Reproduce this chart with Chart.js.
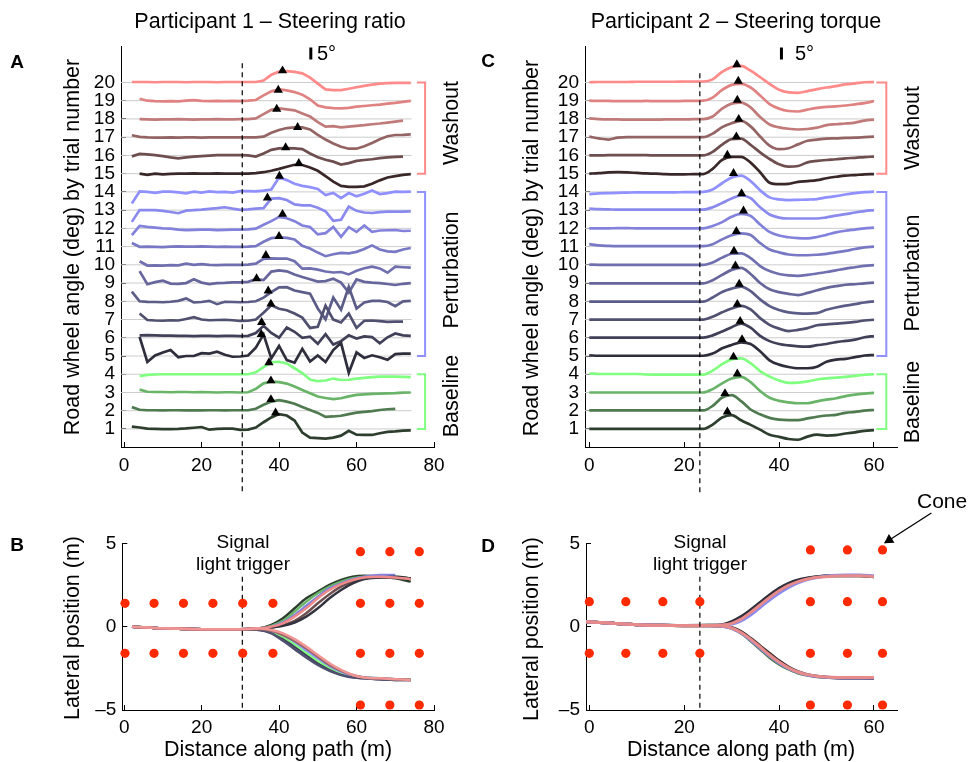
<!DOCTYPE html>
<html>
<head>
<meta charset="utf-8">
<script src="https://cdn.jsdelivr.net/npm/chart.js@4.4.1/dist/chart.umd.min.js"></script>
<style>
  body { margin: 0; background: #fff; }
  #fig { position: relative; width: 968px; height: 762px; overflow: hidden;
         font-family: "Liberation Sans", Arial, Helvetica, sans-serif; color: #000; }
  canvas { position: absolute; }
  .t { position: absolute; white-space: nowrap; transform: translate(-50%, -50%); line-height: 1; }
  .v { transform: translate(-50%, -50%) rotate(-90deg); }
  .lt { position: absolute; white-space: nowrap; transform: translate(0, -50%); line-height: 1; }
  .b { font-weight: bold; font-size: 19px; }
</style>
</head>
<body>
<div id="fig">
  <canvas id="chartA" width="484" height="500" style="left:0;top:0"></canvas>
  <canvas id="chartC" width="484" height="500" style="left:484px;top:0"></canvas>
  <canvas id="chartB" width="484" height="272" style="left:0;top:490px"></canvas>
  <canvas id="chartD" width="484" height="272" style="left:484px;top:490px"></canvas>

  <div class="t" style="left:270px;top:22px;font-size:21.5px">Participant 1 – Steering ratio</div>
  <div class="t" style="left:736px;top:22px;font-size:21.5px">Participant 2 – Steering torque</div>

  <div class="t b" style="left:17px;top:61px">A</div>
  <div class="t b" style="left:488px;top:60px">C</div>
  <div class="t b" style="left:17px;top:544px">B</div>
  <div class="t b" style="left:488px;top:545px">D</div>

  <div class="t v" style="left:73px;top:247px;font-size:21.5px">Road wheel angle (deg) by trial number</div>
  <div class="t v" style="left:532px;top:248px;font-size:21.5px">Road wheel angle (deg) by trial number</div>
  <div class="t v" style="left:73px;top:628px;font-size:21.5px">Lateral position (m)</div>
  <div class="t v" style="left:532px;top:629px;font-size:21.5px">Lateral position (m)</div>
  <div class="t" style="left:278px;top:750px;font-size:21.5px">Distance along path (m)</div>
  <div class="t" style="left:741px;top:750px;font-size:21.5px">Distance along path (m)</div>

  <div class="t v" style="left:452px;top:123px;font-size:21.5px">Washout</div>
  <div class="t v" style="left:452px;top:270px;font-size:21.5px">Perturbation</div>
  <div class="t v" style="left:452px;top:396px;font-size:21.5px">Baseline</div>
  <div class="t v" style="left:913px;top:128px;font-size:21.5px">Washout</div>
  <div class="t v" style="left:913px;top:273px;font-size:21.5px">Perturbation</div>
  <div class="t v" style="left:913px;top:402px;font-size:21.5px">Baseline</div>

  <div class="lt" style="left:317px;top:53px;font-size:20px">5°</div>
  <div class="lt" style="left:795px;top:53px;font-size:20px">5°</div>

  <div class="t" style="left:243px;top:541px;font-size:19px">Signal</div>
  <div class="t" style="left:243px;top:563px;font-size:19px">light trigger</div>
  <div class="t" style="left:700px;top:541px;font-size:19px">Signal</div>
  <div class="t" style="left:700px;top:563px;font-size:19px">light trigger</div>
  <div class="lt" style="left:917px;top:500px;font-size:21px">Cone</div>
</div>

<script>
Chart.defaults.font.family = '"Liberation Sans", Arial, Helvetica, sans-serif';
Chart.defaults.color = '#000';

// degrees of road wheel angle per trial row (5 deg scale bar = 0.66 rows)
const DEG_PER_ROW = 7.6;

const trialNumbers = [1, 2, 3, 4, 5, 6, 7, 8, 9, 10, 11, 12, 13, 14, 15, 16, 17, 18, 19, 20];
const trialColors = [
    '#2e3e2e', '#507a50', '#6ab46a', '#80ff80',                 // baseline 1-4
    '#2e2e3c', '#404058', '#505070', '#5c5c88', '#66669c',      // perturbation 5-9
    '#7070b0', '#7878c4', '#8282dc', '#8a8aee', '#9090ff',      // perturbation 10-14
    '#3a2828', '#6e4e4e', '#946464', '#c07a7a', '#e08282', '#ff8a8a' // washout 15-20
];
const groupColors = ['#ff8a8a', '#9090ff', '#80ff80'];
const groupTop = [20, 14, 4];
const groupBottom = [15, 5, 1];

// ---- Participant 1: road wheel angle (deg) sampled every 2 m ----
const p1Dist = [2, 4, 6, 8, 10, 12, 14, 16, 18, 20, 22, 24, 26, 28, 30, 32, 34, 36, 38,
    40, 42, 44, 46, 48, 50, 52, 54, 56, 58, 60, 62, 64, 66, 68, 70, 72, 74];
const p1Trial01 = [1.0, 0.6, 0.1, 0, -0.1, -0.1, 0, 0.2, 0.5, 0.8, -0.3, 0, 0.1, 0.1, -0.4, -0.3,
    0.6, 2.8, 4.8, 6.2, 5.6, 3.5, -1.5, -3.6, -3.8, -4.0, -3.6, -2.8, -0.8, -2.4, -2.5, -2.5, -1.8, -1.2, -1.0, -0.7, -0.6];
const p1Trial02 = [1.5, 0.4, 0.2, 0.2, 0.1, 0.2, 0.2, 0.1, 0.2, 0.1, 0.2, 0.2, 0.1, 0.2, 0.2, 0.2,
    0.8, 2.5, 3.8, 4.4, 3.8, 2.9, 1.5, 0.3, -0.9, -2.6, -2.4, -2.1, -1.4, -0.8, -0.5, -0.2, 0.3, 0.6, 0.8, null, null];
const p1Trial03 = [null, 1.2, 0.3, 0.2, 0.2, 0.1, 0.2, 0.2, 0.1, 0.2, 0.1, 0, 0.1, 0.1, 0, 0.1,
    1.5, 3.8, 4.5, 4.3, 3.7, 2.5, 1.0, -0.3, -1.7, -2.3, -2.8, -2.4, -1.6, -1.0, -0.8, -0.6, -0.5, -0.4, -0.3, -0.1, 0];
const p1Trial04 = [null, -0.8, -0.3, -0.1, 0, 0, 0, 0, 0, 0, 0, 0, 0, 0, 0, 0,
    0.8, 3.0, 5.0, 5.2, 4.5, 2.5, 0.5, -2.2, -2.9, -2.6, -1.8, -2.4, -2.3, -1.8, -1.5, -1.2, -1.0, -1.0, -1.0, -1.1, -1.2];
const p1Trial05 = [null, 8.0, -2.5, 0.2, 1.5, 2.5, -0.5, 0, 0, 1.2, 1.0, 1.8, 0.5, -0.3, -0.2, 0.2,
    3.5, 9.0, -1.0, 4.2, -1.7, -2.8, 3.0, -2.3, 0.2, -2.5, 2.5, 5.5, -7.0, 1.5, -0.8, 0.3, -0.5, -1.6, 0.8, 1.0, 1.0];
const p1Trial06 = [null, 1.0, 1.1, 1.0, 0.9, 0.9, 0.8, 0.8, 0.7, 0.8, 0.8, 0.7, 0.8, 0.8, 0.7, 0.8,
    2.0, 5.0, 2.0, 0, 4.3, 2.5, 0, 0.5, -2.5, 1.5, -2.8, -1.4, 1.0, -0.3, 0.6, 0.3, -2.3, 0.2, 1.8, 1.0, 0.8];
const p1Trial07 = [null, 2.5, -0.2, -0.4, -0.5, -0.3, -0.4, 0.2, 1.0, 0, -0.3, -0.2, -0.1, -0.3, -0.6, -0.5,
    0, 2.8, 5.9, 4.5, 3.9, 2.5, 0.8, -3.5, -3.0, 5.8, 0, -1.2, 2.5, -3.5, -0.5, -0.4, -0.7, -1.0, -0.9, -0.9, null];
const p1Trial08 = [4.0, 0, -0.2, -0.3, -0.4, -0.2, 0.2, 1.2, -0.5, -0.3, 0.2, -1.2, -0.2, -0.3, -0.4, -0.3,
    0, 1.5, 3.8, 5.8, 5.9, 4.5, 3.8, 3.2, -3.0, -7.5, 1.6, -3.5, 6.0, -3.0, -0.5, 0.2, 0.2, -0.3, -2.0, 0, 0.2];
const p1Trial09 = [null, 5.0, -0.5, 0.4, 1.0, -0.2, -0.3, 0, 1.6, 0.2, -0.4, 0, 0.1, 0.3, 0.3, 0.5,
    1.6, 1.2, 4.8, 5.3, 4.9, 3.6, 2.5, 1.6, 0.6, 0.8, 1.8, 0.2, -4.0, 1.5, 0.5, 0.2, 0, -0.4, -0.8, -0.3, 0];
const p1Trial10 = [null, 1.5, -0.3, -0.2, -0.3, -0.1, -0.2, 0.5, 0, 0.3, 0, -0.1, 0, 0, 0, 0.1,
    0.5, 2.5, 2.7, 2.6, 2.6, 1.5, -1.6, -1.5, -2.0, -2.8, -3.2, -3.0, -4.0, -2.5, -1.4, -0.8, -1.5, -3.3, -0.8, -1.0, -1.2];
const p1Trial11 = [1.5, -0.1, 0, -0.1, -0.2, 0, 0.1, 0, 0, 0.1, 0, -0.1, 0, -0.1, -0.1, 0,
    0.2, 2.0, 3.5, 3.8, 3.6, 3.0, 0.3, -0.8, -2.5, -4.0, -3.2, -2.6, -2.8, -2.2, -1.0, 0.5, -1.2, -2.0, -2.2, -1.2, -0.6];
const p1Trial12 = [-2.8, 1.0, 0.6, 0.3, 0, -0.1, -0.5, -0.7, -0.6, -0.5, -0.5, -0.7, -0.6, -0.5, -0.5, -0.4,
    -0.1, 1.5, 3.0, 4.8, 4.2, 3.0, 1.2, 0.6, -2.5, -2.0, 0.6, -3.5, 0.5, -1.5, 1.2, -1.4, -0.9, -0.8, -0.7, -1.1, -1.0];
const p1Trial13 = [-4.9, 0, 0, 0, -0.3, -0.8, -1.3, -0.2, 0, 0.2, 0.5, 0.8, 1.2, 0.6, 0.1, 0.3,
    0.6, 0.8, 4.8, 5.0, 4.2, 2.4, 2.0, 2.0, 1.0, -0.5, -4.5, -4.0, 1.5, -0.3, -1.0, -1.2, -0.8, -0.6, -0.6, -0.6, -0.5];
const p1Trial14 = [-4.8, 0.2, 0, -0.4, 0.1, 0.1, -0.2, -0.6, 0.1, -0.3, 0.2, -0.1, 0, -0.3, 0.3, 0.3,
    0.2, 0.5, 1.0, 6.0, 4.9, 3.4, 2.5, 2.0, 1.2, -1.3, -0.4, -2.6, -0.5, -1.8, -0.8, 0.6, -0.9, -0.5, 0.1, 0, 0.1];
const p1Trial15 = [null, 0, -0.5, 0, -0.3, -0.1, 0, 0, 0.1, 0, 0, 0.1, 0, 0, 0, 0,
    0.2, 0.6, 1.2, 2.0, 2.9, 3.7, 3.6, 2.6, 1.2, -1.0, -3.3, -5.1, -5.5, -5.5, -5.3, -4.2, -2.8, -1.6, -1.0, -0.5, -0.2];
const p1Trial16 = [-0.4, 0.6, 0.4, 0.1, -0.3, -0.8, -1.2, -0.8, -0.5, -0.3, -0.1, 0.1, 0.1, 0.1, 0.1, 0,
    -0.5, 0.8, 2.3, 2.9, 3.0, 2.9, 2.6, 0.8, -0.8, -1.8, -2.6, -3.8, -3.2, -2.3, -1.9, -1.6, -1.1, -0.8, -0.6, -0.5, null];
const p1Trial17 = [0.8, 0.1, -0.1, -0.2, -0.2, -0.1, -0.2, -0.1, -0.1, -0.2, -0.1, -0.1, -0.1, -0.1, -0.1, -0.1,
    -0.1, 0.2, 1.8, 3.0, 3.8, 4.1, 4.1, 3.2, 1.0, -1.0, -2.6, -4.0, -4.8, -4.8, -3.8, -2.4, -0.9, 0.4, 0.9, 1.0, 1.2];
const p1Trial18 = [null, -0.1, -0.2, -0.3, -0.2, -0.2, -0.1, -0.2, -0.3, -0.2, -0.2, -0.1, -0.2, -0.2, -0.1, -0.1,
    0.2, 2.0, 3.8, 4.4, 4.0, 3.6, 2.3, 1.0, -1.3, -3.2, -3.0, -3.5, -3.2, -2.9, -2.6, -2.2, -1.9, -1.5, -1.1, -0.7, null];
const p1Trial19 = [null, 0.8, 0, -0.2, -0.3, -0.2, -0.3, 0, 0.2, -0.1, -0.2, -0.1, -0.2, -0.1, -0.2, 0,
    0.3, 2.2, 3.9, 4.7, 4.3, 3.6, 2.5, 0.6, -2.0, -2.8, -3.1, -3.2, -3.0, -2.5, -2.2, -1.9, -1.6, -1.2, -0.9, -0.5, -0.1];
const p1Trial20 = [0.2, 0.2, 0.2, 0.1, 0.2, 0.2, 0.2, 0.1, 0.2, 0.2, 0.2, 0.1, 0.2, 0.2, 0.2, 0.2,
    0.2, 0.8, 3.2, 4.5, 4.7, 4.4, 3.8, 2.0, -0.5, -2.9, -3.2, -3.2, -2.6, -2.0, -1.4, -0.9, -0.5, -0.3, -0.2, -0.2, -0.2];
const p1Traces = [p1Trial01, p1Trial02, p1Trial03, p1Trial04, p1Trial05, p1Trial06, p1Trial07, p1Trial08, p1Trial09, p1Trial10,
    p1Trial11, p1Trial12, p1Trial13, p1Trial14, p1Trial15, p1Trial16, p1Trial17, p1Trial18, p1Trial19, p1Trial20];
const p1PeakDist = [39.1, 37.9, 37.9, 37.4, 35.4, 35.5, 37.9, 37.2, 34.2, 36.6, 40.0, 40.9, 37.0, 40.1, 45.1, 41.7, 44.8, 39.4, 39.8, 40.9];
const p1PeakDeg = [6.7, 4.7, 4.9, 4.9, 9.0, 6.4, 6.5, 4.4, 1.9, 4.0, 4.3, 5.9, 5.1, 6.6, 4.3, 3.3, 4.1, 4.1, 4.4, 4.9];

// ---- Participant 2: road wheel angle (deg) sampled every 2 m ----
const p2Dist = [0, 2, 4, 6, 8, 10, 12, 14, 16, 18, 20, 22, 24, 26, 28, 30, 32, 34, 36, 38,
    40, 42, 44, 46, 48, 50, 52, 54, 56, 58, 60];
const p2Trial01 = [0, 0, 0, 0, 0, 0, 0, 0, 0, 0, 0, 0, 0,
    1.8, 4.8, 5.8, 3.6, 1.7, -0.3, -2.4, -3.3, -4.2, -4.5, -3.2, -2.4, -2.8, -2.6, -1.9, -1.4, -0.8, -0.5];
const p2Trial02 = [0.1, 0.1, 0.1, 0.1, 0.1, 0.1, 0.1, 0.1, 0.1, 0.1, 0.1, 0.1, 0.1,
    2.0, 5.5, 6.5, 4.0, 0.5, -1.5, -3.0, -3.7, -3.9, -3.9, -3.2, -2.5, -2.0, -1.7, -0.9, -0.5, 0, 0.3];
const p2Trial03 = [0, 0, 0, 0, 0, 0, 0, 0, 0, 0, 0, 0, 0,
    1.4, 3.8, 5.8, 6.5, 4.3, 0.6, -2.2, -3.5, -4.1, -4.5, -4.5, -3.7, -3.0, -2.4, -1.5, -0.9, -0.5, -0.2];
const p2Trial04 = [0.3, 0.1, 0.1, 0.1, 0.1, 0.1, -0.1, -0.2, -0.2, -0.2, -0.2, -0.2, -0.2,
    1.5, 4.2, 6.2, 6.6, 4.6, 1.3, -1.0, -2.6, -3.6, -3.5, -3.0, -2.2, -1.7, -1.4, -1.1, -0.7, -0.2, 0];
const p2Trial05 = [0.3, 0.1, 0.1, 0.1, 0.1, 0.1, 0.1, 0.1, 0.1, 0.1, 0.1, 0.1, 0.1,
    1.0, 3.2, 4.6, 5.7, 5.0, 2.0, -1.8, -3.6, -4.6, -5.1, -5.1, -4.5, -2.4, -1.5, -1.2, -0.5, 0.2, 0.4];
const p2Trial06 = [0.1, 0.1, 0.1, 0.1, 0.1, 0.1, 0.1, 0.1, 0.1, 0.1, 0.1, 0.1, 0.1,
    1.0, 2.6, 4.4, 5.9, 4.2, 0.8, -1.4, -2.6, -3.2, -3.6, -3.7, -3.1, -2.6, -1.8, -1.3, -0.8, 0.2, 0.7];
const p2Trial07 = [0, 0, 0, 0, 0, 0, 0, 0, 0, 0, 0, 0, 0,
    1.2, 3.0, 4.6, 5.7, 4.2, 0.6, -2.2, -3.8, -4.8, -4.3, -3.6, -2.4, -2.0, -1.7, -1.4, -1.0, -0.4, -0.1];
const p2Trial08 = [-0.1, -0.1, -0.1, -0.1, -0.1, -0.1, -0.1, -0.1, -0.1, -0.1, -0.1, -0.1, -0.1,
    1.6, 3.9, 5.3, 6.1, 4.2, 0.8, -2.0, -3.6, -4.6, -5.0, -5.1, -4.9, -3.5, -2.6, -1.8, -1.2, -0.5, 0];
const p2Trial09 = [-0.1, -0.1, -0.1, -0.1, -0.1, -0.1, -0.1, -0.1, -0.1, -0.1, -0.1, -0.1, -0.1,
    1.2, 3.4, 5.5, 6.3, 3.8, 0, -2.6, -3.8, -4.5, -5.0, -4.1, -3.0, -2.0, -1.3, -0.7, -0.5, -0.1, 0.2];
const p2Trial10 = [0.1, 0, 0, 0, 0, 0, 0, 0, 0, 0, 0, 0, 0,
    1.0, 3.0, 4.6, 4.8, 2.8, -0.5, -2.6, -3.8, -4.4, -4.6, -4.2, -3.6, -3.0, -2.3, -1.6, -1.0, -0.4, -0.1];
const p2Trial11 = [1.0, 0.5, 0.3, 0.2, 0.2, 0.2, 0.2, 0.2, 0.2, 0.2, 0.2, 0.2, 0.2,
    1.0, 3.0, 4.7, 5.5, 4.8, 1.5, -1.2, -2.4, -3.3, -3.6, -3.6, -3.4, -3.0, -2.4, -1.8, -1.0, -0.3, 0];
const p2Trial12 = [0, 0, 0, 0.1, 0.1, 0, 0, 0, 0, 0, 0, 0, 0,
    1.0, 2.6, 4.8, 6.0, 5.2, 1.6, -1.5, -3.0, -3.7, -4.1, -4.2, -3.6, -2.7, -1.7, -1.0, -0.5, 0, 0.3];
const p2Trial13 = [0.6, 0.4, 0.3, 0.2, 0.2, 0.2, 0.2, 0.2, 0.2, 0.2, 0.2, 0.2, 0.2,
    1.2, 3.0, 4.8, 6.1, 5.0, 1.2, -1.8, -3.1, -3.5, -3.5, -3.5, -3.5, -3.0, -2.3, -1.7, -1.0, -0.4, 0];
const p2Trial14 = [-0.9, -0.6, -0.5, -0.4, -0.3, -0.2, -0.2, -0.2, -0.2, -0.2, -0.1, -0.1, 0,
    1.0, 3.6, 6.0, 6.8, 4.5, 0.7, -2.3, -3.1, -3.4, -3.3, -3.2, -3.0, -2.3, -1.8, -1.1, -0.5, -0.1, 0.1];
const p2Trial15 = [0, 0.2, 0.5, 0.6, 0.5, 0.3, 0.1, 0, -0.2, -0.3, -0.3, -0.2, -0.2,
    2.0, 5.7, 7.0, 7.0, 4.6, 0.6, -3.8, -4.4, -4.3, -3.4, -3.1, -2.7, -1.9, -1.3, -0.8, -0.6, -0.3, -0.2];
const p2Trial16 = [0, 0, 0.1, 0.1, 0.1, 0.1, 0.1, 0, 0, 0, 0, 0, 0,
    1.5, 4.5, 6.8, 7.0, 4.4, 1.3, -1.5, -3.7, -4.7, -4.4, -2.9, -2.3, -1.9, -1.6, -1.2, -1.0, -0.7, -0.5];
const p2Trial17 = [0.2, -0.5, -1.0, -0.2, 0, 0, 0, 0, 0, 0, 0, 0, 0,
    1.5, 4.2, 5.8, 6.8, 4.5, 0.3, -3.5, -5.0, -4.6, -3.0, -1.5, -1.0, -0.6, -0.5, -0.3, -0.2, 0, 0.2];
const p2Trial18 = [0.2, -0.1, -0.2, -0.2, -0.3, -0.3, -0.3, -0.3, -0.2, -0.2, -0.2, -0.1, -0.1,
    1.0, 4.3, 6.4, 6.8, 4.8, 0.8, -2.3, -3.5, -4.1, -4.4, -4.2, -3.6, -2.6, -2.2, -1.9, -1.5, -0.7, -0.3];
const p2Trial19 = [0, -0.1, -0.1, -0.2, -0.2, -0.2, -0.1, -0.2, -0.2, -0.2, -0.1, -0.1, 0,
    1.3, 4.5, 6.6, 7.0, 5.5, 2.2, -1.4, -3.3, -4.3, -4.5, -3.7, -3.0, -2.6, -2.4, -2.0, -1.5, -1.0, -0.2];
const p2Trial20 = [0.1, 0.2, 0.2, 0.2, 0.2, 0.3, 0.3, 0.3, 0.3, 0.3, 0.4, 0.4, 0.4,
    1.3, 4.4, 6.4, 6.9, 4.9, 2.2, -0.6, -3.0, -4.1, -4.3, -3.6, -2.8, -2.1, -1.5, -0.8, -0.4, 0.1, 0.2];
const p2Traces = [p2Trial01, p2Trial02, p2Trial03, p2Trial04, p2Trial05, p2Trial06, p2Trial07, p2Trial08, p2Trial09, p2Trial10,
    p2Trial11, p2Trial12, p2Trial13, p2Trial14, p2Trial15, p2Trial16, p2Trial17, p2Trial18, p2Trial19, p2Trial20];
const p2PeakDist = [29.1, 28.6, 31.2, 30.4, 32.2, 31.8, 31.2, 31.6, 30.8, 30.5, 31.0, 32.5, 32.1, 30.4, 29.1, 31.0, 31.5, 31.2, 31.4, 31.1];
const p2PeakDeg = [7.1, 7.2, 7.8, 7.2, 6.9, 6.9, 6.4, 7.2, 7.2, 5.7, 6.4, 7.3, 6.9, 7.7, 7.7, 7.8, 7.5, 7.9, 8.2, 7.5];

// ---- Lateral position paths (m) ----
const p1PathDist = [2, 10, 20, 30, 35, 38, 41, 44, 47, 50, 53, 56, 59, 62, 66, 70, 74];
const p1PathLeftA = [0, -0.1, -0.15, -0.15, -0.1, 0.1, 0.5, 1.1, 1.7, 2.1, 2.5, 2.8, 3.0, 3.05, 3.0, 2.9, 2.7];
const p1PathLeftB = [0, -0.1, -0.15, -0.15, -0.1, 0.05, 0.35, 0.9, 1.5, 2.0, 2.4, 2.7, 2.9, 3.0, 3.0, 3.0, 2.9];
const p1PathLeftC = [0, -0.1, -0.15, -0.15, -0.1, 0, 0.25, 0.7, 1.25, 1.8, 2.3, 2.6, 2.85, 3.0, 3.1, 3.1, null];
const p1PathLeftD = [0, -0.1, -0.15, -0.15, -0.1, -0.05, 0.1, 0.35, 0.8, 1.4, 1.95, 2.4, 2.7, 2.9, 2.95, 2.95, 2.9];
const p1PathLeftE = [0, -0.1, -0.15, -0.15, -0.1, -0.05, 0.05, 0.25, 0.6, 1.1, 1.7, 2.2, 2.6, 2.85, 2.95, 3.0, 2.9];
const p1PathLeftF = [0, -0.1, -0.15, -0.15, -0.1, 0, 0.2, 0.6, 1.1, 1.7, 2.2, 2.55, 2.8, 2.95, 3.0, 2.95, 2.85];
const p1PathRightA = [0, -0.1, -0.15, -0.15, -0.2, -0.35, -0.7, -1.2, -1.7, -2.2, -2.55, -2.85, -3.0, -3.1, -3.15, -3.2, -3.2];
const p1PathRightB = [0, -0.1, -0.15, -0.15, -0.15, -0.3, -0.6, -1.05, -1.55, -2.05, -2.45, -2.75, -2.95, -3.05, -3.1, -3.15, -3.15];
const p1PathRightC = [0, -0.1, -0.15, -0.15, -0.15, -0.25, -0.5, -0.9, -1.4, -1.9, -2.35, -2.7, -2.95, -3.05, -3.1, -3.15, -3.2];
const p1PathRightD = [0, -0.1, -0.15, -0.15, -0.2, -0.4, -0.85, -1.35, -1.85, -2.3, -2.65, -2.9, -3.05, -3.1, -3.15, -3.2, -3.2];
const p1PathRightE = [0, -0.1, -0.15, -0.15, -0.15, -0.25, -0.5, -0.85, -1.3, -1.8, -2.3, -2.65, -2.9, -3.05, -3.1, -3.15, -3.2];
const p1PathRightF = [0, -0.1, -0.15, -0.15, -0.1, -0.2, -0.4, -0.75, -1.2, -1.7, -2.2, -2.6, -2.9, -3.05, -3.1, -3.15, -3.2];
const p1Paths = [p1PathLeftA, p1PathRightA, p1PathLeftB, p1PathRightB, p1PathLeftC, p1PathRightC,
    p1PathLeftD, p1PathRightD, p1PathLeftE, p1PathRightE, p1PathLeftF, p1PathRightF];
const p1PathColors = ['#2e3e2e', '#404058', '#6ab46a', '#80ff80', '#8282dc', '#9090ff',
    '#6e4e4e', '#505070', '#333340', '#946464', '#f08a8a', '#f09494'];

const p2PathDist = [-0.8, 5, 10, 15, 20, 25, 28, 30, 32, 34, 36, 38, 40, 42, 44, 46, 48, 51, 54, 57, 60];
const p2PathLeftA = [0.3, 0.2, 0.12, 0.08, 0.07, 0.08, 0.1, 0.25, 0.55, 0.95, 1.4, 1.85, 2.25, 2.55, 2.75, 2.9, 3.0, 3.05, 3.05, 3.05, 3.0];
const p2PathLeftB = [0.3, 0.2, 0.12, 0.08, 0.07, 0.08, 0.12, 0.3, 0.6, 1.0, 1.45, 1.9, 2.3, 2.6, 2.8, 2.92, 3.0, 3.05, 3.05, 3.05, 3.0];
const p2PathLeftC = [0.3, 0.2, 0.12, 0.08, 0.07, 0.07, 0.08, 0.15, 0.35, 0.7, 1.15, 1.6, 2.0, 2.35, 2.62, 2.82, 2.95, 3.07, 3.1, 3.1, 3.05];
const p2PathLeftD = [0.3, 0.2, 0.12, 0.08, 0.06, 0.07, 0.1, 0.2, 0.45, 0.85, 1.3, 1.75, 2.15, 2.47, 2.7, 2.86, 2.96, 3.02, 3.05, 3.05, 3.0];
const p2PathRightA = [0.3, 0.2, 0.12, 0.08, 0.06, 0.05, 0.03, -0.1, -0.4, -0.85, -1.35, -1.85, -2.25, -2.55, -2.78, -2.92, -3.0, -3.06, -3.1, -3.1, -3.1];
const p2PathRightB = [0.3, 0.2, 0.12, 0.08, 0.06, 0.05, 0.04, -0.05, -0.3, -0.7, -1.15, -1.6, -2.05, -2.42, -2.7, -2.88, -2.98, -3.05, -3.08, -3.08, -3.1];
const p2PathRightC = [0.3, 0.2, 0.12, 0.08, 0.06, 0.05, 0.03, -0.1, -0.38, -0.8, -1.28, -1.75, -2.18, -2.5, -2.74, -2.9, -2.99, -3.05, -3.08, -3.08, -3.08];
const p2PathRightD = [0.3, 0.2, 0.12, 0.08, 0.06, 0.05, 0.04, -0.08, -0.35, -0.75, -1.22, -1.7, -2.12, -2.47, -2.72, -2.88, -2.97, -3.03, -3.05, -3.05, -3.05];
const p2Paths = [p2PathLeftA, p2PathRightA, p2PathLeftB, p2PathRightB, p2PathLeftC, p2PathRightC, p2PathLeftD, p2PathRightD];
const p2PathColors = ['#507a50', '#507a50', '#2e2e3c', '#3a2828', '#8a8aee', '#8a8aee', '#e88a8a', '#e88a8a'];

// ---- Cones (m) ----
const p1NearConeDist = [0.2, 7.7, 15.3, 22.9, 30.6, 38.4];
const p1FarConeDist = [61.0, 68.6, 76.2];
const p1NearConeLat = [1.4, -1.6];
const p1FarConeLat = [4.5, 1.4, -1.6, -4.7];
const p2NearConeDist = [0, 7.7, 15.5, 23.3];
const p2FarConeDist = [46.6, 54.4, 61.8];
const p2NearConeLat = [1.5, -1.6];
const p2FarConeLat = [4.6, 1.5, -1.6, -4.7];

// signal light trigger, scale bar and annotation positions
const p1TriggerDist = 30.5;
const p2TriggerDist = 23.3;
const p1ScaleBarDist = 48.2;
const p2ScaleBarDist = 40.5;
const scaleBarDeg = 5;
const scaleBarBase = 21.26;
const coneArrowTail = [72.1, 6.82];
const coneArrowTip = [62.25, 5.02];
const coneArrowHead = [63.2, 5.2];

function xAxis(min, max, tickValues, height, pad) {
    return {
        type: 'linear', min: min, max: max,
        afterBuildTicks: s => { s.ticks = tickValues.map(v => ({ value: v })); },
        afterFit: s => { s.height = height; },
        grid: { drawOnChartArea: false, drawTicks: true, tickLength: -5, color: '#000' },
        border: { display: true, color: '#000', width: 1 },
        ticks: { font: { size: 19 }, color: '#000', padding: pad, maxRotation: 0, autoSkip: false }
    };
}

function yAxis(min, max, tickValues, width, label) {
    return {
        type: 'linear', min: min, max: max,
        afterBuildTicks: s => { s.ticks = tickValues.map(v => ({ value: v })); },
        afterFit: s => { s.width = width; },
        grid: { drawOnChartArea: false, drawTicks: true, tickLength: -5, color: '#000' },
        border: { display: true, color: '#000', width: 1 },
        ticks: { font: { size: 19 }, color: '#000', padding: 11, autoSkip: false,
                 callback: label || (v => v) }
    };
}

function line(points, color, width, order, extra) {
    return Object.assign({
        data: points, borderColor: color, borderWidth: width,
        pointRadius: 0, fill: false, tension: 0, order: order
    }, extra || {});
}

function traceDatasets(dist, traces, peakDist, peakDeg, baselineEnd, xMin, smooth,
                       triggerDist, triggerTop, barDist, bracketTick, bracketX) {
    const sets = [];
    // trial baselines
    trialNumbers.forEach(t => {
        sets.push(line([{ x: xMin, y: t }, { x: baselineEnd, y: t }], '#cccccc', 1, 20));
    });
    // wheel angle traces
    traces.forEach((degs, i) => {
        const trial = trialNumbers[i];
        const pts = dist.map((d, j) => ({ x: d, y: degs[j] == null ? null : trial + degs[j] / DEG_PER_ROW }));
        sets.push(line(pts, trialColors[i], 2.7, 10,
            smooth ? { cubicInterpolationMode: 'monotone' } : {}));
    });
    // peak markers
    sets.push({
        data: peakDist.map((d, i) => ({ x: d, y: trialNumbers[i] + peakDeg[i] / DEG_PER_ROW })),
        showLine: false, pointStyle: 'triangle', pointRadius: 5.3, pointBackgroundColor: '#000',
        pointBorderWidth: 0, order: 0
    });
    // signal trigger
    sets.push(line([{ x: triggerDist, y: triggerTop }, { x: triggerDist, y: -2.6 }], '#000', 1.2, 2,
        { borderDash: [5, 4], clip: false }));
    // 5 deg scale bar
    sets.push(line([{ x: barDist, y: scaleBarBase }, { x: barDist, y: scaleBarBase + scaleBarDeg / DEG_PER_ROW }],
        '#000', 3, 2));
    // group brackets
    groupTop.forEach((top, g) => {
        sets.push(line([{ x: bracketTick, y: top }, { x: bracketX, y: top },
                        { x: bracketX, y: groupBottom[g] }, { x: bracketTick, y: groupBottom[g] }],
            groupColors[g], 2, 3, { clip: false }));
    });
    return sets;
}

function pathDatasets(dist, paths, colors, width, nearDist, nearLat, farDist, farLat, triggerDist) {
    const sets = [];
    paths.forEach((lat, i) => {
        sets.push(line(dist.map((d, j) => ({ x: d, y: lat[j] })), colors[i], width, 10 - i * 0.5,
            { cubicInterpolationMode: 'monotone' }));
    });
    const cones = [];
    nearDist.forEach(d => nearLat.forEach(l => cones.push({ x: d, y: l })));
    farDist.forEach(d => farLat.forEach(l => cones.push({ x: d, y: l })));
    sets.push({
        data: cones, showLine: false, pointStyle: 'circle', pointRadius: 4.6,
        pointBackgroundColor: '#ff2a00', pointBorderWidth: 0, order: 1, clip: false
    });
    sets.push(line([{ x: triggerDist, y: 3.0 }, { x: triggerDist, y: -5 }], '#000', 1.2, 2,
        { borderDash: [5, 4] }));
    return sets;
}

function makeChart(id, datasets, scales, padding) {
    return new Chart(document.getElementById(id), {
        type: 'line',
        data: { datasets: datasets },
        options: {
            responsive: false,
            animation: false,
            events: [],
            layout: { padding: padding },
            scales: scales,
            plugins: { legend: { display: false }, tooltip: { enabled: false } },
            spanGaps: false
        }
    });
}

const minusLabel = v => (v < 0 ? '\u2013' + Math.abs(v) : String(v));

// Panel A
makeChart('chartA',
    traceDatasets(p1Dist, p1Traces, p1PeakDist, p1PeakDeg, 74.2, -0.8, false,
        p1TriggerDist, 21.06, p1ScaleBarDist, 75.6, 77.7),
    { x: xAxis(-0.8, 80, [0, 20, 40, 60, 80], 53, 12.4), y: yAxis(0.01, 22, trialNumbers, 121) },
    { top: 46, right: 50, left: 0, bottom: 0 });

// Panel C
makeChart('chartC',
    traceDatasets(p2Dist, p2Traces, p2PeakDist, p2PeakDeg, 60.1, -0.9, true,
        p2TriggerDist, 20.5, p2ScaleBarDist, 60.5, 62.6),
    { x: xAxis(-0.9, 65, [0, 20, 40, 60], 53, 12.4), y: yAxis(0.01, 22, trialNumbers, 101) },
    { top: 46, right: 70.3, left: 0, bottom: 0 });

// Panel B
makeChart('chartB',
    pathDatasets(p1PathDist, p1Paths, p1PathColors, 2.5, p1NearConeDist, p1NearConeLat,
        p1FarConeDist, p1FarConeLat, p1TriggerDist),
    { x: xAxis(-0.5, 80, [0, 20, 40, 60, 80], 52, 11.1), y: yAxis(-5, 5, [-5, 0, 5], 122.3, minusLabel) },
    { top: 53.3, right: 50, left: 0, bottom: 0 });

// Panel D (with cone annotation arrow)
const dSets = pathDatasets(p2PathDist, p2Paths, p2PathColors, 3, p2NearConeDist, p2NearConeLat,
    p2FarConeDist, p2FarConeLat, p2TriggerDist);
dSets.push(line([{ x: coneArrowTail[0], y: coneArrowTail[1] }, { x: coneArrowTip[0], y: coneArrowTip[1] }],
    '#000', 1.3, 0, { clip: false }));
dSets.push({
    data: [{ x: coneArrowHead[0], y: coneArrowHead[1] }], showLine: false, pointStyle: 'triangle',
    pointRadius: 6, pointRotation: 237, pointBackgroundColor: '#000', pointBorderWidth: 0, order: 0, clip: false
});
makeChart('chartD', dSets,
    { x: xAxis(-0.7, 65, [0, 20, 40, 60], 52, 11.1), y: yAxis(-5, 5, [-5, 0, 5], 102, minusLabel) },
    { top: 53.3, right: 70.3, left: 0, bottom: 0 });
</script>
</body>
</html>
